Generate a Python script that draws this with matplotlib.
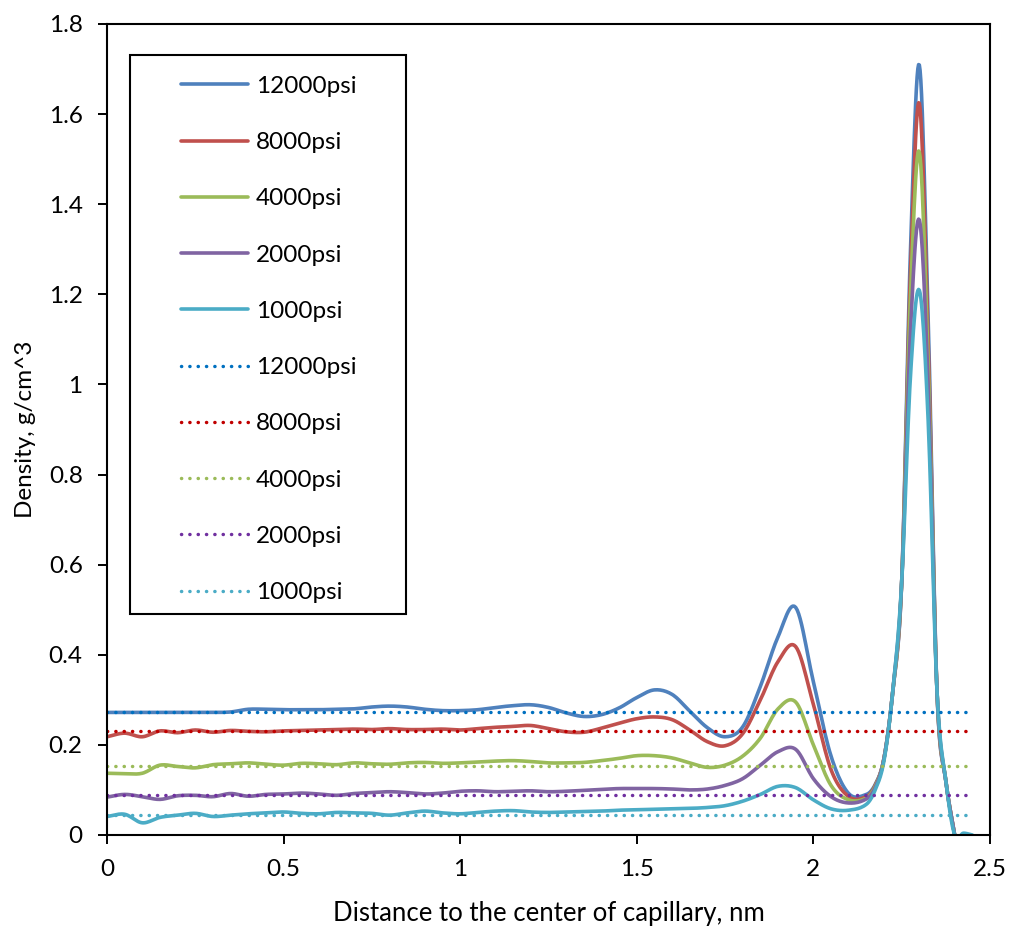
import numpy as np
import matplotlib
matplotlib.use("Agg")
import matplotlib.pyplot as plt
from matplotlib.patches import Rectangle
from matplotlib.ticker import FuncFormatter, MultipleLocator

plt.rcParams['font.family'] = ['Lato', 'DejaVu Sans']

# distance from capillary centre, nm
x_base = [0.00, 0.05, 0.10, 0.15, 0.20, 0.25, 0.30, 0.35, 0.40, 0.45,
          0.50, 0.55, 0.60, 0.65, 0.70, 0.75, 0.80, 0.85, 0.90, 0.95,
          1.00, 1.05, 1.10, 1.15, 1.20, 1.25, 1.30, 1.35, 1.40, 1.45,
          1.50, 1.55, 1.60, 1.65, 1.70, 1.75, 1.80, 1.85, 1.90, 1.95,
          2.00, 2.05, 2.10, 2.15, 2.175, 2.20, 2.225, 2.25, 2.275, 2.30,
          2.325, 2.35, 2.375, 2.40]
x_tail = [2.425, 2.45]

# simulated density profiles, g/cm^3
rho_12000 = [0.272, 0.272, 0.272, 0.272, 0.272, 0.272, 0.272, 0.273, 0.279, 0.279,
             0.278, 0.278, 0.278, 0.279, 0.280, 0.284, 0.286, 0.284, 0.279, 0.276,
             0.276, 0.278, 0.283, 0.287, 0.289, 0.283, 0.271, 0.263, 0.267, 0.282,
             0.305, 0.322, 0.312, 0.275, 0.238, 0.218, 0.240, 0.330, 0.440, 0.505,
             0.340, 0.175, 0.092, 0.090, 0.112, 0.170, 0.320, 0.560, 1.300, 1.709,
             1.150, 0.320, 0.120, 0.000]
rho_8000 = [0.218, 0.226, 0.218, 0.231, 0.227, 0.233, 0.228, 0.232, 0.230, 0.229,
            0.231, 0.232, 0.233, 0.234, 0.235, 0.234, 0.236, 0.234, 0.234, 0.235,
            0.233, 0.236, 0.239, 0.241, 0.243, 0.236, 0.229, 0.228, 0.237, 0.248,
            0.258, 0.262, 0.256, 0.233, 0.207, 0.198, 0.225, 0.300, 0.385, 0.418,
            0.290, 0.145, 0.085, 0.085, 0.110, 0.170, 0.320, 0.560, 1.250, 1.624,
            1.100, 0.320, 0.120, 0.000]
rho_4000 = [0.137, 0.136, 0.137, 0.155, 0.152, 0.149, 0.156, 0.158, 0.160, 0.157,
            0.155, 0.159, 0.158, 0.156, 0.160, 0.158, 0.157, 0.160, 0.161, 0.159,
            0.160, 0.162, 0.164, 0.165, 0.163, 0.160, 0.160, 0.161, 0.165, 0.170,
            0.176, 0.176, 0.171, 0.160, 0.150, 0.155, 0.175, 0.215, 0.280, 0.295,
            0.200, 0.110, 0.078, 0.082, 0.108, 0.170, 0.320, 0.560, 1.200, 1.516,
            1.050, 0.320, 0.120, 0.000]
rho_2000 = [0.084, 0.090, 0.085, 0.079, 0.087, 0.088, 0.085, 0.092, 0.086, 0.090,
            0.091, 0.093, 0.091, 0.088, 0.092, 0.094, 0.096, 0.094, 0.091, 0.093,
            0.097, 0.098, 0.096, 0.097, 0.098, 0.096, 0.097, 0.099, 0.101, 0.103,
            0.103, 0.103, 0.102, 0.100, 0.102, 0.110, 0.125, 0.155, 0.185, 0.190,
            0.125, 0.085, 0.071, 0.080, 0.105, 0.170, 0.320, 0.560, 1.120, 1.365,
            1.000, 0.320, 0.120, 0.000]
rho_1000 = [0.041, 0.046, 0.027, 0.039, 0.044, 0.048, 0.041, 0.044, 0.047, 0.049,
            0.051, 0.048, 0.047, 0.050, 0.049, 0.048, 0.044, 0.049, 0.053, 0.049,
            0.047, 0.050, 0.053, 0.054, 0.051, 0.050, 0.051, 0.052, 0.053, 0.055,
            0.056, 0.057, 0.058, 0.059, 0.061, 0.065, 0.075, 0.090, 0.108, 0.105,
            0.078, 0.058, 0.055, 0.068, 0.100, 0.165, 0.320, 0.560, 1.020, 1.209,
            0.920, 0.320, 0.120, 0.000, 0.004, 0.000]

# bulk densities at each pressure, g/cm^3
bulk_pressures = ['12000psi', '8000psi', '4000psi', '2000psi', '1000psi']
bulk_density = [0.273, 0.231, 0.153, 0.089, 0.044]
bulk_x = [0.0, 2.443]

profile_labels = ['12000psi', '8000psi', '4000psi', '2000psi', '1000psi']
profiles = [rho_12000, rho_8000, rho_4000, rho_2000, rho_1000]

solid_colors = ['#4F81BD', '#C0504D', '#9BBB59', '#8064A2', '#4BACC6']
dot_colors = ['#0070C0', '#C00000', '#9BBB59', '#7030A0', '#4BACC6']

FS = 17.5


def smooth(x, y, n=12):
    """Cardinal (Catmull-Rom style) cubic Hermite smoothing through the points."""
    x = np.asarray(x, float)
    y = np.asarray(y, float)
    m = np.empty_like(y)
    m[1:-1] = (y[2:] - y[:-2]) / (x[2:] - x[:-2])
    m[0] = (y[1] - y[0]) / (x[1] - x[0])
    m[-1] = (y[-1] - y[-2]) / (x[-1] - x[-2])
    xs, ys = [], []
    for i in range(len(x) - 1):
        h = x[i + 1] - x[i]
        t = np.linspace(0, 1, n, endpoint=False)
        h00 = 2 * t**3 - 3 * t**2 + 1
        h10 = t**3 - 2 * t**2 + t
        h01 = -2 * t**3 + 3 * t**2
        h11 = t**3 - t**2
        xs.append(x[i] + t * h)
        ys.append(h00 * y[i] + h10 * h * m[i] + h01 * y[i + 1] + h11 * h * m[i + 1])
    xs.append([x[-1]])
    ys.append([y[-1]])
    return np.concatenate(xs), np.concatenate(ys)


fig = plt.figure(figsize=(10.11, 9.26), dpi=100)
ax = fig.add_axes([0.1058, 0.0983, 0.8734, 0.8758])

handles = []
for lab, rho, c in zip(profile_labels, profiles, solid_colors):
    xx = x_base + x_tail[:len(rho) - len(x_base)]
    sx, sy = smooth(xx, rho)
    h, = ax.plot(sx, sy, color=c, lw=2.6, solid_capstyle='round', label=lab)
    handles.append(h)

for lab, d, c in zip(bulk_pressures, bulk_density, dot_colors):
    h, = ax.plot(bulk_x, [d, d], color=c, lw=2.5,
                 linestyle=(0, (0.05, 2.35)), dash_capstyle='round', label=lab)
    handles.append(h)

ax.set_xlim(0, 2.5)
ax.set_ylim(0, 1.8)
ax.xaxis.set_major_locator(MultipleLocator(0.5))
ax.yaxis.set_major_locator(MultipleLocator(0.2))
fmt = FuncFormatter(lambda v, p: f'{v:g}')
ax.xaxis.set_major_formatter(fmt)
ax.yaxis.set_major_formatter(fmt)
ax.tick_params(direction='out', length=6.5, width=1.4, labelsize=FS, colors='black')
ax.tick_params(axis='y', pad=11)
ax.tick_params(axis='x', pad=11)
for s in ax.spines.values():
    s.set_linewidth(1.5)
    s.set_color('black')

ax.set_xlabel('Distance to the center of capillary, nm', fontsize=18.5, labelpad=15)
ax.set_ylabel('Density, g/cm^3', fontsize=17.5, labelpad=9)

# legend box
ax.add_patch(Rectangle((0.026, 0.2725), 0.3126, 0.6893, transform=ax.transAxes,
                       fill=True, facecolor='white', edgecolor='black', lw=1.5, zorder=5))
leg = ax.legend(handles=handles, loc='upper left', bbox_to_anchor=(0.0838, 0.936),
                frameon=False, fontsize=FS, borderpad=0, borderaxespad=0,
                handlelength=2.76, handletextpad=0.33, labelspacing=1.45)
leg.set_zorder(6)

fig.savefig('out.png', dpi=100)
